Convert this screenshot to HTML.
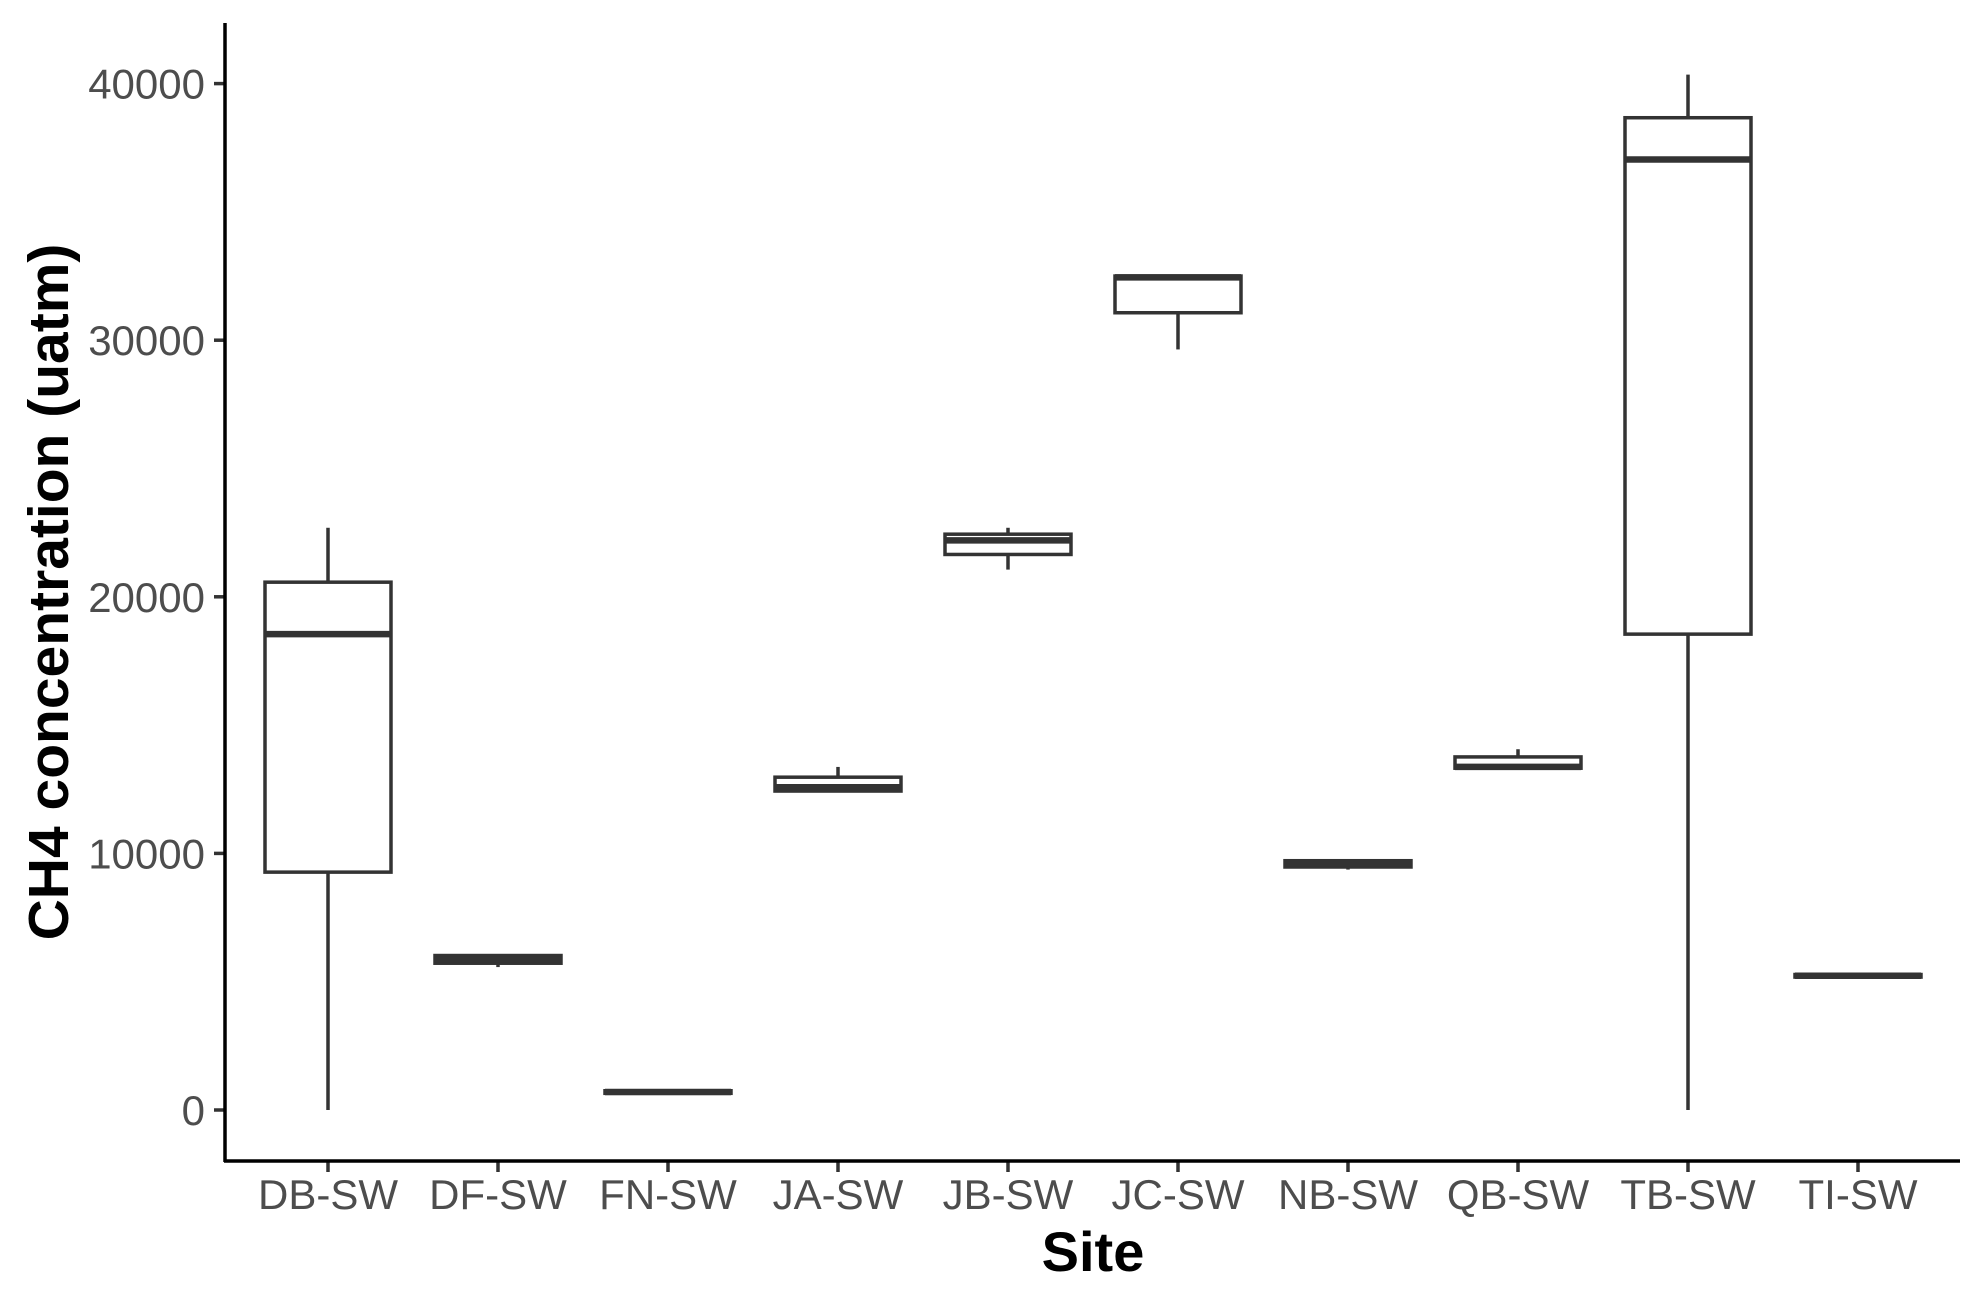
<!DOCTYPE html>
<html><head><meta charset="utf-8">
<style>
html,body{margin:0;padding:0;background:#fff;}
svg{display:block;}
text{font-family:"Liberation Sans",Arial,sans-serif;}
</style></head>
<body>
<svg id="chart" width="1975" height="1306" viewBox="0 0 1975 1306">
  <g id="ticks-y"></g>
  <g id="ticks-x"></g>
  <g id="boxes"></g>
  <line x1="225" y1="23" x2="225" y2="1162" stroke="#000" stroke-width="3.5"/>
  <line x1="224" y1="1161" x2="1960" y2="1161" stroke="#000" stroke-width="3.5"/>
  <text x="1093" y="1271" text-anchor="middle" font-size="56" font-weight="bold" fill="#000">Site</text>
  <text transform="translate(68,592) rotate(-90)" text-anchor="middle" font-size="57" font-weight="bold" fill="#000">CH4 concentration (uatm)</text>
</svg>
<script>
const categories = ["DB-SW","DF-SW","FN-SW","JA-SW","JB-SW","JC-SW","NB-SW","QB-SW","TB-SW","TI-SW"];
const whiskerLow = [0, 5570, 650, 12430, 21060, 29640, 9370, 13320, 0, 5180];
const q1 = [9270, 5720, 650, 12430, 21650, 31070, 9470, 13320, 18545, 5180];
const median = [18545, 5870, 700, 12580, 22200, 32450, 9620, 13370, 37040, 5230];
const q3 = [20570, 6020, 750, 12970, 22440, 32500, 9715, 13760, 38670, 5280];
const whiskerHigh = [22690, 6020, 750, 13370, 22690, 32500, 9715, 14060, 40350, 5280];
const yTicks = [0, 10000, 20000, 30000, 40000];
const yTickLabels = ["0", "10000", "20000", "30000", "40000"];

const NS = "http://www.w3.org/2000/svg";
const y = v => 1110 - (v / 40000) * (1110 - 83.6);
const x = i => 328 + i * 170;
const BW = 126;
function mk(tag, attrs, parent){
  const e = document.createElementNS(NS, tag);
  for (const k in attrs) e.setAttribute(k, attrs[k]);
  parent.appendChild(e);
  return e;
}
const gy = document.getElementById("ticks-y");
yTicks.forEach((v, i) => {
  const t = mk("line", {x1:214, x2:225, y1:y(v), y2:y(v), stroke:"#333", "stroke-width":3.5}, gy);
  
  
  const l = mk("text", {x:205, y:y(v) + 15, "text-anchor":"end", "font-size":42, fill:"#4d4d4d"}, gy);
  l.textContent = yTickLabels[i];
  
  
});
const gx = document.getElementById("ticks-x");
categories.forEach((c, i) => {
  const t = mk("line", {x1:x(i), x2:x(i), y1:1161, y2:1172, stroke:"#333", "stroke-width":3.5}, gx);
  
  
  const l = mk("text", {x:x(i), y:1209, "text-anchor":"middle", "font-size":42, fill:"#4d4d4d"}, gx);
  l.textContent = c;
  
  
});
const gb = document.getElementById("boxes");
categories.forEach((c, i) => {
  const g = mk("g", {}, gb);
  
  
  const cx = x(i);
  const w1 = mk("line", {x1:cx, x2:cx, y1:y(q3[i]), y2:y(whiskerHigh[i]), stroke:"#333", "stroke-width":3.5}, g);
  
  
  const w2 = mk("line", {x1:cx, x2:cx, y1:y(q1[i]), y2:y(whiskerLow[i]), stroke:"#333", "stroke-width":3.5}, g);
  
  
  const r = mk("rect", {x:cx - BW/2, y:y(q3[i]), width:BW, height:Math.max(0, y(q1[i]) - y(q3[i])), fill:"#fff", stroke:"#333", "stroke-width":3.5}, g);
  
  
  const m = mk("line", {x1:cx - BW/2, x2:cx + BW/2, y1:y(median[i]), y2:y(median[i]), stroke:"#333", "stroke-width":6.5}, g);
  
  
});
</script>
</body></html>
